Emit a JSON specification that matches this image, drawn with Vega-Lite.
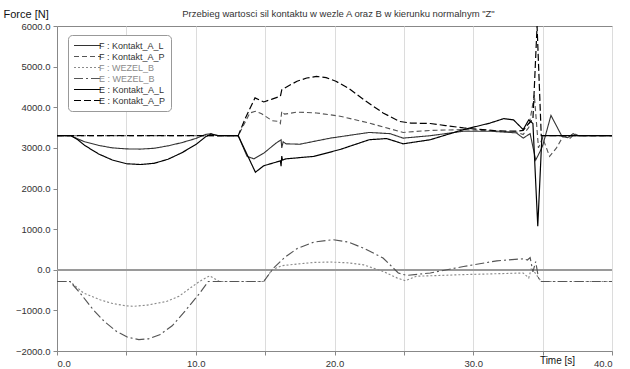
{
  "$schema": "https://vega.github.io/schema/vega-lite/v6.json",
  "width": 555,
  "height": 325,
  "autosize": "none",
  "padding": {"left": 57, "top": 26, "right": 18, "bottom": 18},
  "background": "white",
  "title": {"text": "Przebieg wartosci sil kontaktu w wezle A oraz B w kierunku normalnym \"Z\"", "anchor": "middle", "frame": "group", "font": "Liberation Sans", "fontSize": 9.5, "fontWeight": "normal", "color": "#333", "offset": 6, "dx": 4, "dy": 16},
  "config": {
    "view": {"stroke": "#888", "strokeWidth": 1},
    "axis": {"gridColor": "#dcdcdc", "gridWidth": 1, "domainColor": "#888", "tickColor": "#888", "tickSize": 4, "labelColor": "#333", "labelFont": "Liberation Sans", "labelFontSize": 9.5, "titleFont": "Liberation Sans", "titleFontSize": 11, "titleFontWeight": "normal", "titleColor": "#111"}
  },
  "data": {"values": [
    {"s":"F : Kontakt_A_L","t":0,"v":3300},{"s":"F : Kontakt_A_L","t":1,"v":3300},{"s":"F : Kontakt_A_L","t":1.5,"v":3220},{"s":"F : Kontakt_A_L","t":2,"v":3150},{"s":"F : Kontakt_A_L","t":3,"v":3060},{"s":"F : Kontakt_A_L","t":4,"v":3000},{"s":"F : Kontakt_A_L","t":5,"v":2975},{"s":"F : Kontakt_A_L","t":6,"v":2970},{"s":"F : Kontakt_A_L","t":7,"v":2990},{"s":"F : Kontakt_A_L","t":8,"v":3050},{"s":"F : Kontakt_A_L","t":9,"v":3130},{"s":"F : Kontakt_A_L","t":10,"v":3230},{"s":"F : Kontakt_A_L","t":10.7,"v":3330},{"s":"F : Kontakt_A_L","t":11.1,"v":3350},{"s":"F : Kontakt_A_L","t":11.6,"v":3300},{"s":"F : Kontakt_A_L","t":13.06,"v":3300},{"s":"F : Kontakt_A_L","t":13.7,"v":2790},{"s":"F : Kontakt_A_L","t":14.2,"v":2730},{"s":"F : Kontakt_A_L","t":14.9,"v":2870},{"s":"F : Kontakt_A_L","t":15.8,"v":3120},{"s":"F : Kontakt_A_L","t":16.15,"v":3200},{"s":"F : Kontakt_A_L","t":16.2,"v":3000},{"s":"F : Kontakt_A_L","t":16.3,"v":3150},{"s":"F : Kontakt_A_L","t":16.5,"v":3100},{"s":"F : Kontakt_A_L","t":17.5,"v":3090},{"s":"F : Kontakt_A_L","t":19.7,"v":3240},{"s":"F : Kontakt_A_L","t":22.5,"v":3380},{"s":"F : Kontakt_A_L","t":24,"v":3350},{"s":"F : Kontakt_A_L","t":24.95,"v":3240},{"s":"F : Kontakt_A_L","t":26.9,"v":3300},{"s":"F : Kontakt_A_L","t":29.3,"v":3410},{"s":"F : Kontakt_A_L","t":31.2,"v":3410},{"s":"F : Kontakt_A_L","t":33.1,"v":3370},{"s":"F : Kontakt_A_L","t":33.6,"v":3240},{"s":"F : Kontakt_A_L","t":34.1,"v":3350},{"s":"F : Kontakt_A_L","t":34.5,"v":2700},{"s":"F : Kontakt_A_L","t":34.8,"v":2900},{"s":"F : Kontakt_A_L","t":35.0,"v":3050},{"s":"F : Kontakt_A_L","t":35.6,"v":3800},{"s":"F : Kontakt_A_L","t":36.4,"v":3280},{"s":"F : Kontakt_A_L","t":36.8,"v":3250},{"s":"F : Kontakt_A_L","t":37.2,"v":3350},{"s":"F : Kontakt_A_L","t":37.5,"v":3300},{"s":"F : Kontakt_A_L","t":40,"v":3300},

    {"s":"F : Kontakt_A_P","t":0,"v":3300},{"s":"F : Kontakt_A_P","t":13.06,"v":3300},{"s":"F : Kontakt_A_P","t":13.9,"v":3860},{"s":"F : Kontakt_A_P","t":14.3,"v":3900},{"s":"F : Kontakt_A_P","t":14.75,"v":3840},{"s":"F : Kontakt_A_P","t":15.5,"v":3670},{"s":"F : Kontakt_A_P","t":16.0,"v":3650},{"s":"F : Kontakt_A_P","t":16.1,"v":3600},{"s":"F : Kontakt_A_P","t":16.2,"v":3900},{"s":"F : Kontakt_A_P","t":16.4,"v":3830},{"s":"F : Kontakt_A_P","t":17.3,"v":3880},{"s":"F : Kontakt_A_P","t":18.7,"v":3860},{"s":"F : Kontakt_A_P","t":20.4,"v":3780},{"s":"F : Kontakt_A_P","t":22.5,"v":3610},{"s":"F : Kontakt_A_P","t":24.95,"v":3380},{"s":"F : Kontakt_A_P","t":26.9,"v":3430},{"s":"F : Kontakt_A_P","t":29.3,"v":3450},{"s":"F : Kontakt_A_P","t":31.9,"v":3410},{"s":"F : Kontakt_A_P","t":33.2,"v":3380},{"s":"F : Kontakt_A_P","t":33.6,"v":3330},{"s":"F : Kontakt_A_P","t":34.0,"v":3500},{"s":"F : Kontakt_A_P","t":34.4,"v":4300},{"s":"F : Kontakt_A_P","t":34.7,"v":3000},{"s":"F : Kontakt_A_P","t":35.0,"v":3250},{"s":"F : Kontakt_A_P","t":35.5,"v":2790},{"s":"F : Kontakt_A_P","t":36.0,"v":3000},{"s":"F : Kontakt_A_P","t":36.5,"v":3300},{"s":"F : Kontakt_A_P","t":37.0,"v":3240},{"s":"F : Kontakt_A_P","t":37.3,"v":3350},{"s":"F : Kontakt_A_P","t":37.6,"v":3300},{"s":"F : Kontakt_A_P","t":40,"v":3300},

    {"s":"F : WEZEL_B","t":0,"v":-290},{"s":"F : WEZEL_B","t":0.94,"v":-290},{"s":"F : WEZEL_B","t":1.9,"v":-570},{"s":"F : WEZEL_B","t":3.1,"v":-740},{"s":"F : WEZEL_B","t":4,"v":-830},{"s":"F : WEZEL_B","t":5,"v":-890},{"s":"F : WEZEL_B","t":5.5,"v":-900},{"s":"F : WEZEL_B","t":6.5,"v":-870},{"s":"F : WEZEL_B","t":7.9,"v":-780},{"s":"F : WEZEL_B","t":8.8,"v":-650},{"s":"F : WEZEL_B","t":9.6,"v":-450},{"s":"F : WEZEL_B","t":10.3,"v":-280},{"s":"F : WEZEL_B","t":11.0,"v":-150},{"s":"F : WEZEL_B","t":11.7,"v":-290},{"s":"F : WEZEL_B","t":14.9,"v":-290},{"s":"F : WEZEL_B","t":15.5,"v":0},{"s":"F : WEZEL_B","t":16.2,"v":100},{"s":"F : WEZEL_B","t":17.3,"v":140},{"s":"F : WEZEL_B","t":18.5,"v":180},{"s":"F : WEZEL_B","t":19.7,"v":190},{"s":"F : WEZEL_B","t":21,"v":170},{"s":"F : WEZEL_B","t":22.1,"v":120},{"s":"F : WEZEL_B","t":23.5,"v":-40},{"s":"F : WEZEL_B","t":24.5,"v":-200},{"s":"F : WEZEL_B","t":25.1,"v":-270},{"s":"F : WEZEL_B","t":25.9,"v":-160},{"s":"F : WEZEL_B","t":29.3,"v":-120},{"s":"F : WEZEL_B","t":33.6,"v":-80},{"s":"F : WEZEL_B","t":34.0,"v":-200},{"s":"F : WEZEL_B","t":34.2,"v":50},{"s":"F : WEZEL_B","t":34.5,"v":-100},{"s":"F : WEZEL_B","t":34.9,"v":-290},{"s":"F : WEZEL_B","t":40,"v":-290},

    {"s":"E : WEZEL_B","t":0,"v":-290},{"s":"E : WEZEL_B","t":0.94,"v":-290},{"s":"E : WEZEL_B","t":1.66,"v":-570},{"s":"E : WEZEL_B","t":2.6,"v":-980},{"s":"E : WEZEL_B","t":3.4,"v":-1270},{"s":"E : WEZEL_B","t":4.3,"v":-1520},{"s":"E : WEZEL_B","t":5.1,"v":-1660},{"s":"E : WEZEL_B","t":5.9,"v":-1720},{"s":"E : WEZEL_B","t":6.6,"v":-1700},{"s":"E : WEZEL_B","t":7.4,"v":-1600},{"s":"E : WEZEL_B","t":8.3,"v":-1380},{"s":"E : WEZEL_B","t":9.1,"v":-1070},{"s":"E : WEZEL_B","t":9.7,"v":-820},{"s":"E : WEZEL_B","t":10.3,"v":-570},{"s":"E : WEZEL_B","t":10.9,"v":-290},{"s":"E : WEZEL_B","t":14.9,"v":-290},{"s":"E : WEZEL_B","t":15.6,"v":40},{"s":"E : WEZEL_B","t":16.4,"v":300},{"s":"E : WEZEL_B","t":17.3,"v":520},{"s":"E : WEZEL_B","t":18.5,"v":680},{"s":"E : WEZEL_B","t":19.9,"v":740},{"s":"E : WEZEL_B","t":21,"v":680},{"s":"E : WEZEL_B","t":22.1,"v":530},{"s":"E : WEZEL_B","t":23.5,"v":290},{"s":"E : WEZEL_B","t":24.6,"v":-80},{"s":"E : WEZEL_B","t":25.2,"v":-140},{"s":"E : WEZEL_B","t":26.9,"v":-80},{"s":"E : WEZEL_B","t":29.3,"v":80},{"s":"E : WEZEL_B","t":31.7,"v":220},{"s":"E : WEZEL_B","t":33.6,"v":270},{"s":"E : WEZEL_B","t":33.9,"v":240},{"s":"E : WEZEL_B","t":34.1,"v":300},{"s":"E : WEZEL_B","t":34.3,"v":-50},{"s":"E : WEZEL_B","t":34.5,"v":200},{"s":"E : WEZEL_B","t":34.7,"v":-200},{"s":"E : WEZEL_B","t":34.9,"v":-290},{"s":"E : WEZEL_B","t":40,"v":-290},

    {"s":"E : Kontakt_A_L","t":0,"v":3300},{"s":"E : Kontakt_A_L","t":1,"v":3300},{"s":"E : Kontakt_A_L","t":1.5,"v":3200},{"s":"E : Kontakt_A_L","t":2,"v":3060},{"s":"E : Kontakt_A_L","t":3,"v":2850},{"s":"E : Kontakt_A_L","t":4,"v":2700},{"s":"E : Kontakt_A_L","t":5,"v":2610},{"s":"E : Kontakt_A_L","t":6,"v":2590},{"s":"E : Kontakt_A_L","t":7,"v":2620},{"s":"E : Kontakt_A_L","t":8,"v":2720},{"s":"E : Kontakt_A_L","t":9,"v":2880},{"s":"E : Kontakt_A_L","t":10,"v":3080},{"s":"E : Kontakt_A_L","t":10.7,"v":3270},{"s":"E : Kontakt_A_L","t":11.1,"v":3340},{"s":"E : Kontakt_A_L","t":11.6,"v":3300},{"s":"E : Kontakt_A_L","t":13.06,"v":3300},{"s":"E : Kontakt_A_L","t":14.3,"v":2400},{"s":"E : Kontakt_A_L","t":14.9,"v":2560},{"s":"E : Kontakt_A_L","t":16.1,"v":2680},{"s":"E : Kontakt_A_L","t":16.15,"v":2550},{"s":"E : Kontakt_A_L","t":16.2,"v":2800},{"s":"E : Kontakt_A_L","t":16.25,"v":2700},{"s":"E : Kontakt_A_L","t":16.5,"v":2730},{"s":"E : Kontakt_A_L","t":18.5,"v":2790},{"s":"E : Kontakt_A_L","t":20.4,"v":2960},{"s":"E : Kontakt_A_L","t":22.5,"v":3200},{"s":"E : Kontakt_A_L","t":23.75,"v":3230},{"s":"E : Kontakt_A_L","t":24.95,"v":3100},{"s":"E : Kontakt_A_L","t":26.9,"v":3200},{"s":"E : Kontakt_A_L","t":29.3,"v":3450},{"s":"E : Kontakt_A_L","t":31.2,"v":3610},{"s":"E : Kontakt_A_L","t":32.2,"v":3720},{"s":"E : Kontakt_A_L","t":32.9,"v":3690},{"s":"E : Kontakt_A_L","t":33.6,"v":3450},{"s":"E : Kontakt_A_L","t":34.0,"v":3690},{"s":"E : Kontakt_A_L","t":34.3,"v":3600},{"s":"E : Kontakt_A_L","t":34.65,"v":1070},{"s":"E : Kontakt_A_L","t":34.95,"v":3300},{"s":"E : Kontakt_A_L","t":40,"v":3300},

    {"s":"E : Kontakt_A_P","t":0,"v":3300},{"s":"E : Kontakt_A_P","t":13.06,"v":3300},{"s":"E : Kontakt_A_P","t":13.6,"v":3750},{"s":"E : Kontakt_A_P","t":14.27,"v":4230},{"s":"E : Kontakt_A_P","t":14.9,"v":4130},{"s":"E : Kontakt_A_P","t":15.5,"v":4200},{"s":"E : Kontakt_A_P","t":16.1,"v":4270},{"s":"E : Kontakt_A_P","t":16.2,"v":4430},{"s":"E : Kontakt_A_P","t":16.7,"v":4530},{"s":"E : Kontakt_A_P","t":17.3,"v":4640},{"s":"E : Kontakt_A_P","t":18,"v":4720},{"s":"E : Kontakt_A_P","t":18.7,"v":4760},{"s":"E : Kontakt_A_P","t":19.4,"v":4730},{"s":"E : Kontakt_A_P","t":20.1,"v":4640},{"s":"E : Kontakt_A_P","t":21,"v":4470},{"s":"E : Kontakt_A_P","t":22.1,"v":4190},{"s":"E : Kontakt_A_P","t":23.5,"v":3860},{"s":"E : Kontakt_A_P","t":24.7,"v":3650},{"s":"E : Kontakt_A_P","t":25.5,"v":3610},{"s":"E : Kontakt_A_P","t":26.9,"v":3600},{"s":"E : Kontakt_A_P","t":28,"v":3550},{"s":"E : Kontakt_A_P","t":29.3,"v":3490},{"s":"E : Kontakt_A_P","t":31.7,"v":3420},{"s":"E : Kontakt_A_P","t":33,"v":3410},{"s":"E : Kontakt_A_P","t":33.6,"v":3430},{"s":"E : Kontakt_A_P","t":34.0,"v":3600},{"s":"E : Kontakt_A_P","t":34.3,"v":3700},{"s":"E : Kontakt_A_P","t":34.6,"v":6000},{"s":"E : Kontakt_A_P","t":34.9,"v":3300},{"s":"E : Kontakt_A_P","t":40,"v":3300}
  ]},
  "layer": [
    {"mark": {"type": "rule", "color": "#9a9a9a", "strokeWidth": 1.5}, "encoding": {"y": {"datum": 0, "type": "quantitative"}}},
    {"mark": {"type": "line", "clip": true},
     "encoding": {
       "x": {"field": "t", "type": "quantitative", "scale": {"domain": [0, 40], "nice": false, "zero": false},
             "axis": {"title": "Time [s]", "values": [0,5,10,15,20,25,30,35,40], "labelExpr": "datum.value % 10 == 0 ? format(datum.value, '.1f') : ''", "titleAnchor": "start", "titleAlign": "center", "titleX": 500, "titleY": 9, "titleBaseline": "middle", "titleFontSize": 10, "labelPadding": 3}},
       "y": {"field": "v", "type": "quantitative", "scale": {"domain": [-2000, 6000], "nice": false},
             "axis": {"title": "Force [N]", "values": [-2000,-1500,-1000,-500,0,500,1000,1500,2000,2500,3000,3500,4000,4500,5000,5500,6000], "labelExpr": "datum.value % 1000 == 0 ? format(datum.value, '.1f') : ''", "titleAngle": 0, "titleAlign": "left", "titleBaseline": "middle", "titleX": -54, "titleY": -12, "labelPadding": 3}},
       "color": {"field": "s", "type": "nominal",
                 "scale": {"domain": ["F : Kontakt_A_L","F : Kontakt_A_P","F : WEZEL_B","E : WEZEL_B","E : Kontakt_A_L","E : Kontakt_A_P"], "range": ["#333333","#555555","#8a8a8a","#555555","#000000","#000000"]},
                 "legend": {"title": null, "orient": "none", "legendX": 11, "legendY": 9, "symbolType": "M-1,0H5", "symbolSize": 81, "labelOffset": 15, "labelFont": "Liberation Sans", "labelFontSize": 9, "labelColor": "#333", "padding": 5, "rowPadding": 0, "strokeColor": "#999", "cornerRadius": 4, "fillColor": "white",
                            "encode": {"labels": {"update": {"fill": {"signal": "indexof(datum.label, 'WEZEL') >= 0 ? '#8a8a8a' : '#333333'"}}}}}},
       "strokeDash": {"field": "s", "type": "nominal",
                      "scale": {"domain": ["F : Kontakt_A_L","F : Kontakt_A_P","F : WEZEL_B","E : WEZEL_B","E : Kontakt_A_L","E : Kontakt_A_P"], "range": [[1,0],[5,3],[2,2],[9,3,2,3],[1,0],[7,3]]},
                      "legend": {"title": null}},
       "strokeWidth": {"field": "s", "type": "nominal",
                       "scale": {"domain": ["F : Kontakt_A_L","F : Kontakt_A_P","F : WEZEL_B","E : WEZEL_B","E : Kontakt_A_L","E : Kontakt_A_P"], "range": [1.1,1.2,1.1,2.5,2.5,2.8]},
                       "legend": {"title": null}}
     }}
  ]
}
